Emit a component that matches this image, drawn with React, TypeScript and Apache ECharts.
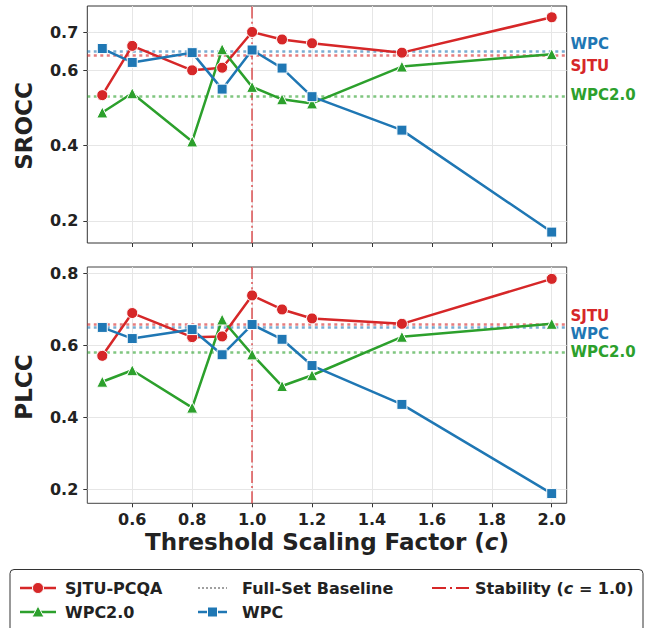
import React, { useEffect, useRef } from 'react';
import * as echarts from 'echarts';

const xValues = [0.5, 0.6, 0.8, 0.9, 1.0, 1.1, 1.2, 1.5, 2.0];
const sroccSJTU = [0.534, 0.665, 0.600, 0.607, 0.702, 0.682, 0.672, 0.647, 0.741];
const sroccWPC = [0.658, 0.621, 0.647, 0.550, 0.654, 0.606, 0.530, 0.441, 0.170];
const sroccWPC2 = [0.488, 0.539, 0.411, 0.656, 0.556, 0.523, 0.512, 0.610, 0.643];
const plccSJTU = [0.571, 0.690, 0.623, 0.625, 0.739, 0.700, 0.675, 0.660, 0.785];
const plccWPC = [0.650, 0.619, 0.644, 0.574, 0.658, 0.617, 0.544, 0.436, 0.188];
const plccWPC2 = [0.499, 0.531, 0.427, 0.672, 0.575, 0.487, 0.517, 0.624, 0.660];
// baselines: SJTU, WPC, WPC2.0
const sroccBaselines = [0.635, 0.652, 0.533];
const plccBaselines = [0.663, 0.647, 0.581];
const stabilityX = 1.0;
const xTicks = [0.6, 0.8, 1.0, 1.2, 1.4, 1.6, 1.8, 2.0];
const sroccTicks = [0.2, 0.4, 0.6, 0.7];
const plccTicks = [0.2, 0.4, 0.6, 0.8];

const RED = '#d62728';
const BLUE = '#1f77b4';
const GREEN = '#2ca02c';
const FONT = 'DejaVu Sans';
const TXT = '#222';

export default function App() {
  const ref = useRef<HTMLDivElement>(null);
  useEffect(() => {
    if (!ref.current) return;
    const chart = echarts.init(ref.current, null, { renderer: 'svg' });
    const gridLeft = 87.3;
    const gridW = 479.4;

    const mkSeries = (name: string, vals: number[], color: string, symbol: string, size: number, gi: number, baseline: number, withV: boolean) => {
      const markData: any[] = [{ yAxis: baseline, lineStyle: { color, opacity: 0.6, width: 2.5, type: [3, 3.5] } }];
      if (withV) {
        markData.push({ xAxis: stabilityX, lineStyle: { color: RED, opacity: 0.6, width: 2, type: [12, 3.2, 2, 3.2] } });
      }
      return {
        type: 'line',
        name,
        xAxisIndex: gi,
        yAxisIndex: gi,
        data: xValues.map((x, i) => [x, vals[i]]),
        symbol,
        symbolSize: size,
        showAllSymbol: true,
        itemStyle: { color, borderColor: '#fff', borderWidth: 1 },
        lineStyle: { color, width: 2.5 },
        z: 3,
        markLine: {
          silent: true,
          symbol: 'none',
          label: { show: false },
          data: markData,
          z: 1,
        },
      };
    };

    const xAxisBase = (gi: number, showLabel: boolean) => ({
      type: 'value',
      gridIndex: gi,
      min: 0.45,
      max: 2.05,
      axisLine: { show: false },
      axisTick: { show: true, length: 4, customValues: xTicks, lineStyle: { color: '#333', width: 1 } },
      axisLabel: {
        show: showLabel,
        customValues: xTicks,
        formatter: (v: number) => v.toFixed(1),
        fontFamily: FONT,
        fontWeight: 'bold',
        fontSize: 16,
        color: TXT,
        margin: 8,
      },
      splitLine: { show: true, lineStyle: { color: '#e6e6e6', width: 1 } },
    });
    const yAxisBase = (gi: number, min: number, max: number, ticks: number[]) => ({
      type: 'value',
      gridIndex: gi,
      min,
      max,
      axisLine: { show: false },
      axisTick: { show: true, length: 4, customValues: ticks, lineStyle: { color: '#333', width: 1 } },
      axisLabel: {
        customValues: ticks,
        formatter: (v: number) => v.toFixed(1),
        fontFamily: FONT,
        fontWeight: 'bold',
        fontSize: 16,
        color: TXT,
        margin: 9,
      },
      splitLine: { show: true, lineStyle: { color: '#e6e6e6', width: 1 } },
    });

    const rightLabel = (text: string, y: number, color: string) => ({
      type: 'text',
      x: 570.5,
      y,
      style: { text, fill: color, font: `bold 15px "${FONT}"`, textVerticalAlign: 'middle', textAlign: 'left' },
    });

    const ly1 = 588;
    const ly2 = 612;
    const legText = (text: string, x: number, y: number) => ({
      type: 'text',
      x,
      y,
      style: { text, fill: TXT, font: `bold 16px "${FONT}"`, textVerticalAlign: 'middle', textAlign: 'left' },
    });

    const option: any = {
      animation: false,
      backgroundColor: '#fff',
      grid: [
        { left: gridLeft, top: 6, width: gridW, height: 237, show: true, borderColor: '#333', borderWidth: 1, backgroundColor: 'transparent' },
        { left: gridLeft, top: 267, width: gridW, height: 236.3, show: true, borderColor: '#444', borderWidth: 1, backgroundColor: 'transparent' },
      ],
      xAxis: [xAxisBase(0, false), xAxisBase(1, true)],
      yAxis: [yAxisBase(0, 0.141, 0.771, sroccTicks), yAxisBase(1, 0.161, 0.818, plccTicks)],
      series: [
        mkSeries('SJTU-PCQA', sroccSJTU, RED, 'circle', 11, 0, sroccBaselines[0], true),
        mkSeries('WPC2.0', sroccWPC2, GREEN, 'triangle', 11, 0, sroccBaselines[2], false),
        mkSeries('WPC', sroccWPC, BLUE, 'rect', 10, 0, sroccBaselines[1], false),
        mkSeries('SJTU-PCQA', plccSJTU, RED, 'circle', 11, 1, plccBaselines[0], true),
        mkSeries('WPC2.0', plccWPC2, GREEN, 'triangle', 11, 1, plccBaselines[2], false),
        mkSeries('WPC', plccWPC, BLUE, 'rect', 10, 1, plccBaselines[1], false),
      ],
      graphic: [
        {
          type: 'text', x: 24, y: 126, rotation: Math.PI / 2,
          style: { text: 'SROCC', fill: TXT, font: `bold 23px "${FONT}"`, textAlign: 'center', textVerticalAlign: 'middle' },
        },
        {
          type: 'text', x: 24, y: 387, rotation: Math.PI / 2,
          style: { text: 'PLCC', fill: TXT, font: `bold 23px "${FONT}"`, textAlign: 'center', textVerticalAlign: 'middle' },
        },
        {
          type: 'text', x: 327, y: 542,
          style: {
            text: '{a|Threshold Scaling Factor (}{b|c}{a|)}',
            textAlign: 'center', textVerticalAlign: 'middle',
            rich: {
              a: { fontFamily: FONT, fontWeight: 'bold', fontSize: 23, fill: TXT, color: TXT },
              b: { fontFamily: FONT, fontWeight: 'bold', fontStyle: 'italic', fontSize: 23, fill: TXT, color: TXT },
            },
          },
        },
        rightLabel('WPC', 44.3, BLUE),
        rightLabel('SJTU', 66, RED),
        rightLabel('WPC2.0', 94.7, GREEN),
        rightLabel('SJTU', 316, RED),
        rightLabel('WPC', 334, BLUE),
        rightLabel('WPC2.0', 352, GREEN),
        // legend
        { type: 'rect', shape: { x: 10, y: 569.5, width: 633, height: 80, r: 4 }, style: { fill: '#fff', stroke: '#333', lineWidth: 1 } },
        { type: 'line', shape: { x1: 20, y1: ly1, x2: 56, y2: ly1 }, style: { stroke: RED, lineWidth: 2.5 } },
        { type: 'circle', shape: { cx: 38, cy: ly1, r: 5.5 }, style: { fill: RED, stroke: '#fff', lineWidth: 1 } },
        legText('SJTU-PCQA', 65, ly1),
        { type: 'line', shape: { x1: 198, y1: ly1, x2: 227, y2: ly1 }, style: { stroke: '#888', lineWidth: 2, lineDash: [2, 2], opacity: 0.8 } },
        legText('Full-Set Baseline', 242, ly1),
        { type: 'line', shape: { x1: 432, y1: ly1, x2: 469, y2: ly1 }, style: { stroke: RED, lineWidth: 2, lineDash: [14, 4, 2, 4] } },
        {
          type: 'text', x: 475, y: ly1,
          style: {
            text: '{a|Stability (}{b|c}{a| = 1.0)}',
            textAlign: 'left', textVerticalAlign: 'middle',
            rich: {
              a: { fontFamily: FONT, fontWeight: 'bold', fontSize: 16, fill: TXT, color: TXT },
              b: { fontFamily: FONT, fontWeight: 'bold', fontStyle: 'italic', fontSize: 16, fill: TXT, color: TXT },
            },
          },
        },
        { type: 'line', shape: { x1: 20, y1: ly2, x2: 56, y2: ly2 }, style: { stroke: GREEN, lineWidth: 2.5 } },
        { type: 'polygon', shape: { points: [[38, ly2 - 6], [44, ly2 + 5], [32, ly2 + 5]] }, style: { fill: GREEN, stroke: '#fff', lineWidth: 1 } },
        legText('WPC2.0', 65, ly2),
        { type: 'line', shape: { x1: 198, y1: ly2, x2: 227, y2: ly2 }, style: { stroke: BLUE, lineWidth: 2.5 } },
        { type: 'rect', shape: { x: 207.5, y: ly2 - 5, width: 10, height: 10 }, style: { fill: BLUE, stroke: '#fff', lineWidth: 1 } },
        legText('WPC', 242, ly2),
      ],
    };
    chart.setOption(option);
    return () => chart.dispose();
  }, []);
  return <div ref={ref} style={{ position: 'fixed', left: 0, top: 0, width: 647, height: 628 }} />;
}
